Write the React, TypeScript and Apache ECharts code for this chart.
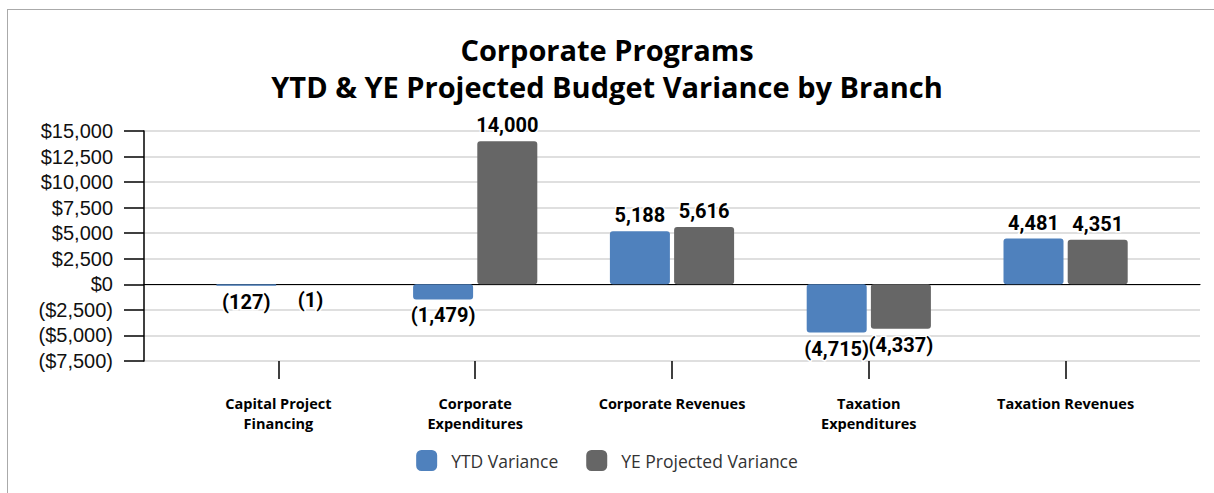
import React, { useEffect, useRef } from "react";
import * as echarts from "echarts";

const categories = [
  "Capital Project\nFinancing",
  "Corporate\nExpenditures",
  "Corporate Revenues",
  "Taxation\nExpenditures",
  "Taxation Revenues",
];
const ytdVariance = [-127, -1479, 5188, -4715, 4481];
const yeProjectedVariance = [-1, 14000, 5616, -4337, 4351];
const seriesNames = ["YTD Variance", "YE Projected Variance"];
const yMin = -7500;
const yMax = 15000;
const yStep = 2500;

const fmtNum = (v: number) => {
  const s = Math.abs(v).toLocaleString("en-US");
  return v < 0 ? `(${s})` : s;
};
const fmtMoney = (v: number) => {
  const s = "$" + Math.abs(v).toLocaleString("en-US");
  return v < 0 ? `(${s})` : s;
};

const labelStyle = {
  show: true,
  fontFamily: "Roboto",
  fontWeight: "bold" as const,
  fontSize: 20,
  color: "#000",
  textBorderColor: "#fff",
  textBorderWidth: 3,
  distance: 6,
  formatter: (p: any) => fmtNum(p.value),
};

const toData = (arr: number[]) =>
  arr.map((v) => ({ value: v, label: { position: v < 0 ? "bottom" : "top" } }));

export default function App() {
  const ref = useRef<HTMLDivElement>(null);
  useEffect(() => {
    if (!ref.current) return;
    const chart = echarts.init(ref.current, undefined, { renderer: "svg" });
    const top = 131;
    const bottom = 132;
    chart.setOption({
      animation: false,
      backgroundColor: "#fff",
      title: {
        text: "Corporate Programs\nYTD & YE Projected Budget Variance by Branch",
        left: "center",
        top: 26,
        textStyle: {
          fontFamily: "Open Sans",
          fontWeight: "bold",
          fontSize: 29,
          lineHeight: 37,
          color: "#000",
        },
      },
      legend: {
        data: seriesNames,
        bottom: 17,
        left: "center",
        icon: "roundRect",
        itemWidth: 21,
        itemHeight: 21,
        itemGap: 28,
        textStyle: {
          fontFamily: "Open Sans",
          fontSize: 17.5,
          color: "#333",
          padding: [0, 0, 0, 9],
        },
      },
      graphic: [
        { type: "line", shape: { x1: 7, y1: 9.5, x2: 1214, y2: 9.5 }, style: { stroke: "#aaa", lineWidth: 1 } },
        { type: "line", shape: { x1: 7.5, y1: 9, x2: 7.5, y2: 493 }, style: { stroke: "#aaa", lineWidth: 1 } },
      ],
      grid: [
        { left: 144, right: 14, top, bottom, containLabel: false },
        { left: 180, right: 50, top, bottom, containLabel: false },
      ],
      xAxis: [
        {
          gridIndex: 0,
          type: "value",
          min: 0,
          max: 1,
          axisLine: { show: true, onZero: true, lineStyle: { color: "#000", width: 1.2 } },
          axisTick: { show: false },
          axisLabel: { show: false },
          splitLine: { show: false },
        },
        {
          gridIndex: 1,
          type: "category",
          data: categories,
          position: "bottom",
          axisLine: { show: false, onZero: false },
          axisTick: { show: true, alignWithLabel: true, length: 18, lineStyle: { color: "#000", width: 1.5 } },
          axisLabel: {
            margin: 32,
            fontFamily: "Open Sans",
            fontWeight: "bold",
            fontSize: 14.5,
            lineHeight: 20,
            color: "#000",
            interval: 0,
            verticalAlign: "top",
          },
          splitLine: { show: false },
        },
      ],
      yAxis: [
        {
          gridIndex: 0,
          type: "value",
          min: yMin,
          max: yMax,
          interval: yStep,
          axisLine: { show: true, lineStyle: { color: "#000", width: 1.5 } },
          axisTick: { show: true, length: 20, lineStyle: { color: "#000", width: 1.5 } },
          axisLabel: {
            margin: 31,
            fontFamily: "Liberation Sans",
            fontSize: 20,
            color: "#111",
            formatter: (v: number) => fmtMoney(v),
          },
          splitLine: { show: true, lineStyle: { color: "#d4d4d4", width: 1.5 } },
        },
        {
          gridIndex: 1,
          type: "value",
          min: yMin,
          max: yMax,
          interval: yStep,
          show: false,
          splitLine: { show: false },
        },
      ],
      series: [
        {
          name: seriesNames[0],
          type: "bar",
          xAxisIndex: 1,
          yAxisIndex: 1,
          data: toData(ytdVariance),
          barWidth: 60,
          barGap: "7%",
          itemStyle: { color: "#4f81bd", borderRadius: 3 },
          label: labelStyle,
        },
        {
          name: seriesNames[1],
          type: "bar",
          xAxisIndex: 1,
          yAxisIndex: 1,
          data: toData(yeProjectedVariance),
          barWidth: 60,
          barGap: "7%",
          itemStyle: { color: "#666666", borderRadius: 3 },
          label: labelStyle,
        },
      ],
    });
    return () => chart.dispose();
  }, []);
  return (
    <div
      ref={ref}
      style={{ position: "absolute", left: 0, top: 0, width: 1214, height: 493 }}
    />
  );
}
